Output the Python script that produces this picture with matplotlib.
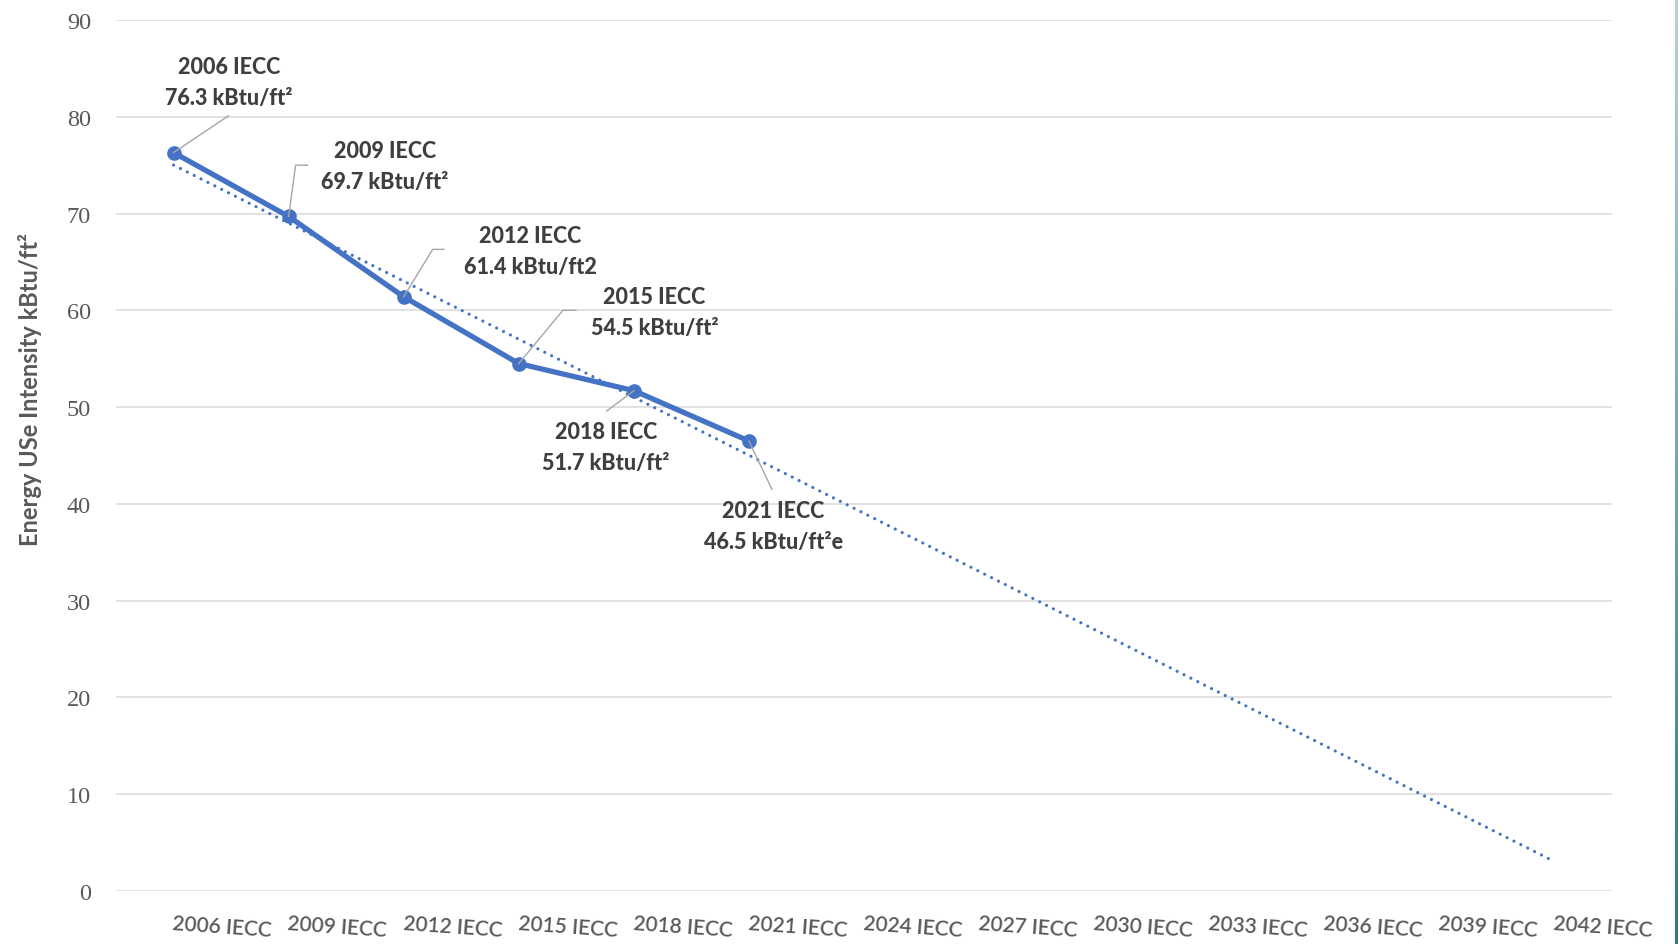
import numpy as np
import matplotlib
matplotlib.use("Agg")
import matplotlib.pyplot as plt

# data
codes = ["2006 IECC", "2009 IECC", "2012 IECC", "2015 IECC", "2018 IECC", "2021 IECC",
         "2024 IECC", "2027 IECC", "2030 IECC", "2033 IECC", "2036 IECC", "2039 IECC", "2042 IECC"]
eui = [76.3, 69.7, 61.4, 54.5, 51.7, 46.5]
units = ["kBtu/ft\u00b2", "kBtu/ft\u00b2", "kBtu/ft2", "kBtu/ft\u00b2", "kBtu/ft\u00b2", "kBtu/ft\u00b2e"]
yticks = [0, 10, 20, 30, 40, 50, 60, 70, 80, 90]

# label placement (text centre, leader path) in data units
label_pos = [(0.48, 83.6), (1.835, 74.9), (3.10, 66.1), (4.18, 59.8), (3.76, 45.9), (5.21, 37.7)]
leaders = [
    [(0.478, 80.1)],
    [(1.061, 75.0), (1.165, 75.0)],
    [(2.252, 66.3), (2.35, 66.3)],
    [(3.383, 60.0), (3.496, 60.0)],
    [(3.765, 49.6)],
    [(5.20, 41.5)],
]

blue = "#4472C4"
grey = "#595959"
dark = "#3f3f3f"

fig = plt.figure(figsize=(16.78, 9.45), dpi=100)
ax = fig.add_axes([116 / 1678, 1 - 892 / 945, (1612 - 116) / 1678, (892 - 21) / 945])

x_all = np.arange(len(codes))
x = np.arange(len(eui))

# linear trendline like excel
k, b = np.polyfit(x + 1, eui, 1)
ax.plot(x_all, k * (x_all + 1) + b, color=blue, lw=2.3, linestyle=(0, (0.01, 2.4)),
        dash_capstyle="round", zorder=3)

ax.plot(x, eui, color=blue, lw=3.8, marker="o", markersize=9.5, zorder=4,
        solid_capstyle="round")

for i in range(len(eui)):
    path = [(x[i], eui[i])] + leaders[i]
    ax.plot([p[0] for p in path], [p[1] for p in path], color="#a6a6a6", lw=1.0, zorder=5)
    tx, ty = label_pos[i]
    ax.text(tx, ty, f"{codes[i]}\n{eui[i]} {units[i]}", ha="center", va="center",
            fontsize=15.5, fontweight=900, color=dark, family="Lato",
            linespacing=1.6, zorder=6)

ax.set_xlim(-0.5, len(codes) - 0.5)
ax.set_ylim(0, 90)
ax.set_yticks(yticks)
ax.set_yticklabels([str(v) for v in yticks], family="Liberation Serif", fontsize=17.5, color=grey)
ax.tick_params(axis="y", length=0, pad=18)
ax.set_xticks(x_all)
ax.set_xticklabels(codes, family="Lato", fontsize=15, fontweight="semibold", color=grey,
                   rotation=-4, ha="left", rotation_mode="anchor")
ax.tick_params(axis="x", length=0, pad=16)

ax.grid(axis="y", color="#d9d9d9", lw=1.1)
ax.set_axisbelow(True)
for s in ax.spines.values():
    s.set_visible(False)

fig.text(30 / 1678, 1 - 390 / 945, "Energy USe Intensity kBtu/ft\u00b2", rotation=90,
         ha="center", va="center", fontsize=17, fontweight="bold", color=grey, family="Lato")

# teal strip on the right edge
strip = fig.add_axes([1675 / 1678, 0, 3 / 1678, 1])
grad = np.linspace(0, 1, 256).reshape(-1, 1)
strip.imshow(grad, aspect="auto", cmap=matplotlib.colors.LinearSegmentedColormap.from_list(
    "teal", ["#b4d4d8", "#2e7b80"]))
strip.axis("off")

fig.savefig("out.png", dpi=100)
